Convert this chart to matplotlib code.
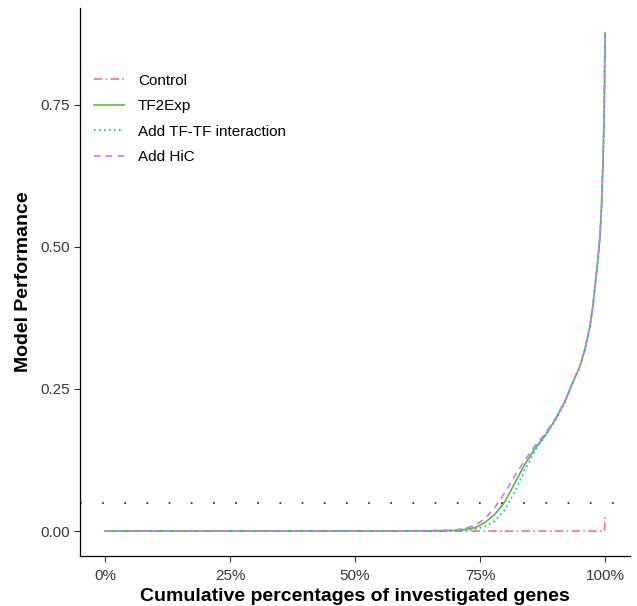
import numpy as np
import matplotlib
matplotlib.use("Agg")
import matplotlib.pyplot as plt
from matplotlib.ticker import FuncFormatter

plt.rcParams['font.family'] = ['Liberation Sans', 'DejaVu Sans']

# cumulative percentage of genes (%) and sorted model performance
pct = [0, 60, 70, 72, 74, 76, 78, 80, 82, 84, 86, 88, 90, 92, 93, 95, 96, 97, 97.5,
       98, 98.5, 99, 99.3, 99.6, 99.8, 99.9, 100]
tf2exp = [0, 0, 0.001, 0.003, 0.006, 0.015, 0.030, 0.052, 0.085, 0.118, 0.145, 0.168,
          0.195, 0.228, 0.250, 0.290, 0.320, 0.360, 0.390, 0.430, 0.470, 0.520,
          0.570, 0.650, 0.720, 0.780, 0.876]
add_tftf = [0, 0, 0.0, 0.001, 0.003, 0.008, 0.018, 0.038, 0.070, 0.108, 0.142, 0.167,
            0.194, 0.227, 0.250, 0.290, 0.320, 0.360, 0.390, 0.430, 0.470, 0.520,
            0.570, 0.650, 0.720, 0.780, 0.876]
add_hic = [0, 0, 0.002, 0.005, 0.010, 0.022, 0.042, 0.068, 0.098, 0.125, 0.150, 0.171,
           0.197, 0.229, 0.251, 0.291, 0.321, 0.361, 0.391, 0.431, 0.471, 0.521,
           0.571, 0.651, 0.721, 0.781, 0.877]
ctrl_pct = [0, 99.9, 100]
control = [0, 0, 0.024]
threshold = 0.05

fig = plt.figure(figsize=(6.37, 6.06), dpi=100)
ax = fig.add_axes([80 / 637, 50 / 606, 550 / 637, 548 / 606])

lw = 1.2
ax.plot(ctrl_pct, control, color='#F8766D', lw=lw, linestyle=(0, (5, 2, 1, 2)), label='Control')
ax.plot(pct, tf2exp, color='#5DB83A', lw=lw, linestyle='-', label='TF2Exp')
ax.plot(pct, add_tftf, color='#00BFC4', lw=lw, linestyle=(0, (1, 2)), label='Add TF-TF interaction')
ax.plot(pct, add_hic, color='#C77CFF', lw=lw, linestyle=(0, (4, 3)), label='Add HiC')
hl = ax.axhline(threshold, color='#222222', lw=1.2)
hl.set_dashes((1.0, 12.3))

ax.set_xlim(-5, 105)
ax.set_ylim(-0.0438, 0.92)
ax.set_xticks([0, 25, 50, 75, 100])
ax.xaxis.set_major_formatter(FuncFormatter(lambda v, p: f"{int(v)}%"))
ax.set_yticks([0, 0.25, 0.5, 0.75])
ax.yaxis.set_major_formatter(FuncFormatter(lambda v, p: f"{v:.2f}"))

for s in ['top', 'right']:
    ax.spines[s].set_visible(False)
for s in ['left', 'bottom']:
    ax.spines[s].set_color('black')
    ax.spines[s].set_linewidth(0.9)
ax.tick_params(axis='both', length=4, width=0.8, color='#333333',
               labelsize=11, labelcolor='#3A3A3A')
ax.tick_params(axis='x', pad=5)

ax.set_xlabel('Cumulative percentages of investigated genes', fontsize=14,
              fontweight='bold', labelpad=4)
ax.set_ylabel('Model Performance', fontsize=14, fontweight='bold', labelpad=6)

ax.legend(loc='upper left', bbox_to_anchor=(0.0, 0.905), frameon=False, fontsize=11,
          handlelength=2.0, labelspacing=0.75, handletextpad=0.9)

fig.savefig('out.png', dpi=100)
